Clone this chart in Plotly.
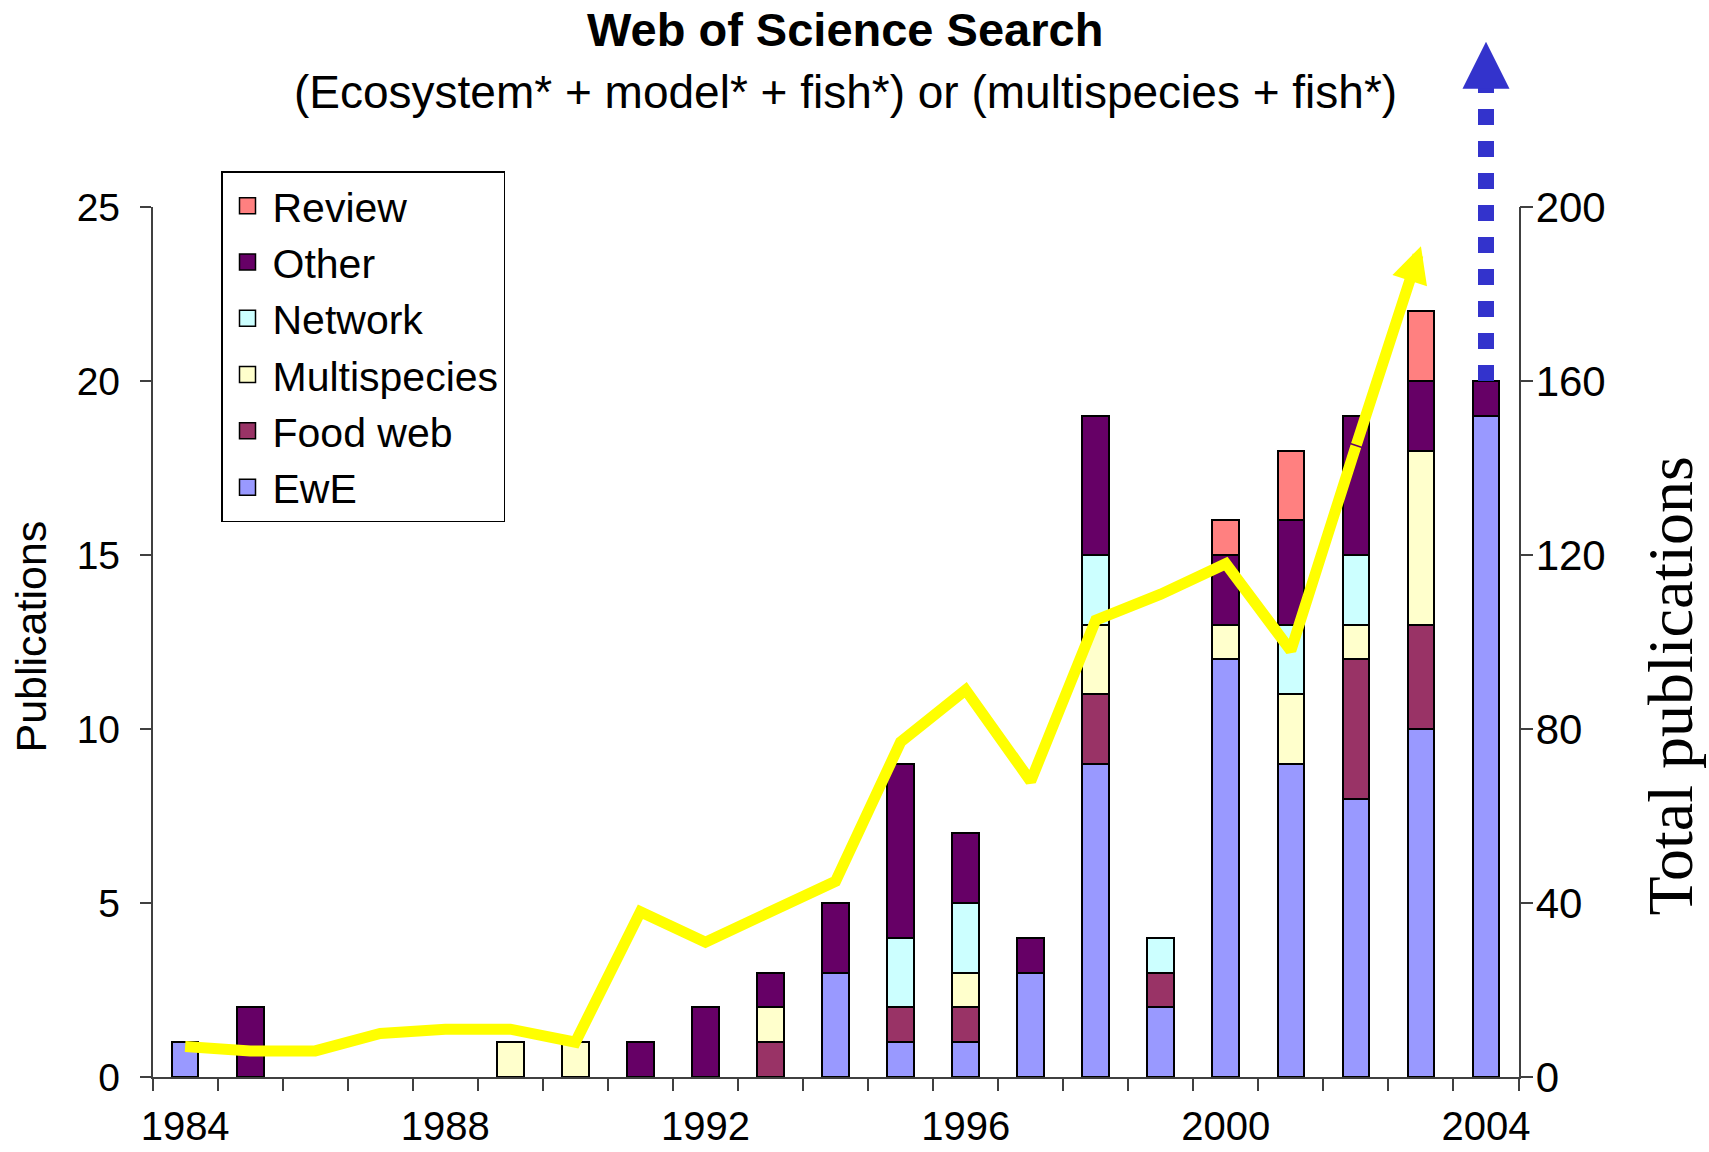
import plotly.graph_objects as go

# ---------------- data ----------------
years = list(range(1984, 2005))
ewe          = [1, 0, 0, 0, 0, 0, 0, 0, 0, 0, 3, 1, 1, 3, 9, 2, 12, 9, 8, 10, 19]
food_web     = [0, 0, 0, 0, 0, 0, 0, 0, 0, 1, 0, 1, 1, 0, 2, 1, 0, 0, 4, 3, 0]
multispecies = [0, 0, 0, 0, 0, 1, 1, 0, 0, 1, 0, 0, 1, 0, 2, 0, 1, 2, 1, 5, 0]
network      = [0, 0, 0, 0, 0, 0, 0, 0, 0, 0, 0, 2, 2, 0, 2, 1, 0, 2, 2, 0, 0]
other        = [0, 2, 0, 0, 0, 0, 0, 1, 2, 1, 2, 5, 2, 1, 4, 0, 2, 3, 4, 2, 1]
review       = [0, 0, 0, 0, 0, 0, 0, 0, 0, 0, 0, 0, 0, 0, 0, 0, 1, 2, 0, 2, 0]

# total publications (right axis), 1984-2003
total_years = list(range(1984, 2004))
totals = [7, 6, 6, 10, 11, 11, 8, 38, 31, 38, 45, 77, 89, 68, 105, 111, 118, 98, 145, 191]

# 2004 projection arrow (right-axis units)
arrow_year = 2004
arrow_start = 160
arrow_shaft_end = 228
arrow_tip = 238

x_ticks = [1984, 1988, 1992, 1996, 2000, 2004]
series = [
    ("EwE", ewe, "#9999FF"),
    ("Food web", food_web, "#993366"),
    ("Multispecies", multispecies, "#FFFFCC"),
    ("Network", network, "#CCFFFF"),
    ("Other", other, "#660066"),
    ("Review", review, "#FF8080"),
]

# ---------------- layout geometry ----------------
W, H = 1709, 1152
x_dom = [152.6 / W, 1518.5 / W]
y_dom = [75 / H, 945 / H]
Y2MAX = 200


def y2_to_paper(v):
    return y_dom[0] + v / Y2MAX * (y_dom[1] - y_dom[0])


SANS = "Liberation Sans, Arial, sans-serif"
SERIF = "Liberation Serif, Times New Roman, serif"
AXC = "#404040"

fig = go.Figure()

for name, vals, col in series:
    fig.add_trace(go.Bar(
        x=years, y=[v if v else None for v in vals], name=name,
        width=0.41, marker=dict(color=col, line=dict(color="black", width=2)),
        showlegend=False,
    ))

# legend proxies (top of stack listed first)
for name, vals, col in reversed(series):
    fig.add_trace(go.Scatter(
        x=[None], y=[None], mode="markers", name=name,
        marker=dict(symbol="square", size=16, color=col,
                    line=dict(color="black", width=1.5)),
        showlegend=True,
    ))

# total publications line (up to 2002, last segment drawn with arrowhead)
fig.add_trace(go.Scatter(
    x=total_years[:-1], y=totals[:-1], yaxis="y2", mode="lines",
    line=dict(color="#FFFF00", width=11), showlegend=False,
))

annotations = [
    dict(x=total_years[-1], y=totals[-1], xref="x", yref="y2",
         ax=total_years[-2], ay=totals[-2], axref="x", ayref="y2",
         text="", showarrow=True, arrowhead=2, arrowwidth=11, arrowsize=0.66,
         arrowcolor="#FFFF00", standoff=0),
    dict(x=arrow_year, y=y2_to_paper(arrow_tip), xref="x", yref="paper",
         ax=0, ay=25, text="", showarrow=True, arrowhead=2, arrowwidth=4,
         arrowsize=2.35, arrowcolor="#3333CC", standoff=0),
    dict(x=845 / W, y=1 - 30 / H, xref="paper", yref="paper", showarrow=False,
         text="<b>Web of Science Search</b>", font=dict(family=SANS, size=47, color="black"),
         xanchor="center", yanchor="middle"),
    dict(x=845 / W, y=1 - 92 / H, xref="paper", yref="paper", showarrow=False,
         text="(Ecosystem* + model* + fish*) or (multispecies + fish*)",
         font=dict(family=SANS, size=46, color="black"),
         xanchor="center", yanchor="middle"),
    dict(x=30 / W, y=(1152 - 636.5) / H, xref="paper", yref="paper", showarrow=False,
         text="Publications", textangle=-90, font=dict(family=SANS, size=43, color="black"),
         xanchor="center", yanchor="middle"),
    dict(x=1671 / W, y=(1152 - 686.6) / H, xref="paper", yref="paper", showarrow=False,
         text="Total publications", textangle=-90, font=dict(family=SERIF, size=64, color="black"),
         xanchor="center", yanchor="middle"),
]

shapes = [
    dict(type="line", xref="x", yref="paper", x0=arrow_year, x1=arrow_year,
         y0=y2_to_paper(arrow_start), y1=y2_to_paper(arrow_shaft_end),
         line=dict(color="#3333CC", width=16, dash="16px,16px")),
]

fig.update_layout(
    template="none",
    width=W, height=H, autosize=False,
    margin=dict(l=0, r=0, t=0, b=0, pad=0, autoexpand=False),
    paper_bgcolor="white", plot_bgcolor="white",
    barmode="stack",
    font=dict(family=SANS, color="black"),
    xaxis=dict(
        domain=x_dom, range=[1983.5, 2004.5], anchor="y", automargin=False,
        tickmode="array", tickvals=x_ticks, ticktext=[str(t) for t in x_ticks],
        ticks="", showline=True, linecolor=AXC, linewidth=1.5, ticklabelstandoff=13,
        showgrid=False, zeroline=False, tickfont=dict(size=40, family=SANS, color="black"),
        minor=dict(tickmode="linear", tick0=1983.5, dtick=1, ticks="outside",
                   ticklen=12, tickwidth=1.5, tickcolor=AXC, showgrid=False),
    ),
    yaxis=dict(
        domain=y_dom, range=[0, 25], anchor="x", automargin=False,
        tickmode="linear", tick0=0, dtick=5,
        ticks="outside", ticklen=11, tickwidth=1.5, tickcolor=AXC, ticklabelstandoff=12,
        showline=True, linecolor=AXC, linewidth=1.5,
        showgrid=False, zeroline=False, tickfont=dict(size=39, family=SANS, color="black"),
    ),
    yaxis2=dict(
        overlaying="y", side="right", anchor="x", range=[0, Y2MAX], automargin=False,
        tickmode="linear", tick0=0, dtick=40,
        ticks="outside", ticklen=13, tickwidth=1.5, tickcolor=AXC, ticklabelstandoff=-6,
        showline=True, linecolor=AXC, linewidth=1.5,
        showgrid=False, zeroline=False, tickfont=dict(size=42, family=SANS, color="black"),
    ),
    legend=dict(
        x=221 / W, y=1 - 171 / H, xanchor="left", yanchor="top",
        bordercolor="black", borderwidth=1.5, bgcolor="white",
        font=dict(size=41, family=SANS, color="black"),
        traceorder="normal", itemsizing="trace", itemwidth=40,
    ),
    annotations=annotations,
    shapes=shapes,
)

fig.write_html("out.html")
